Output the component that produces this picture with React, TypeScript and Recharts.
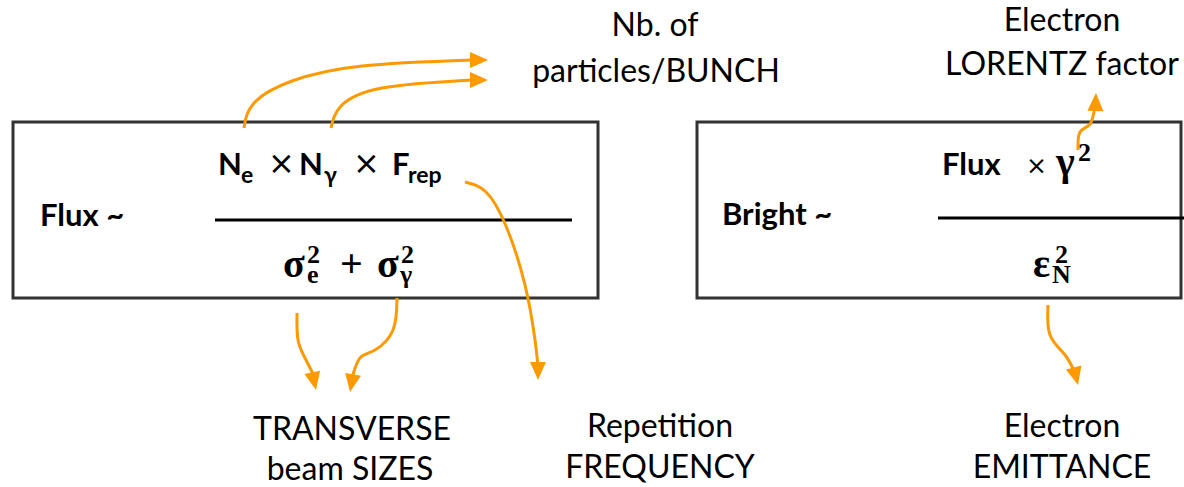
import React from "react";
import {
  ComposedChart,
  XAxis,
  YAxis,
  Line,
  Scatter,
  ReferenceArea,
  ReferenceLine,
} from "recharts";

const ORANGE = "#FF9900";
const SANS = "Lato, 'Open Sans', sans-serif";
const SERIF = "'Liberation Serif', 'DejaVu Serif', serif";

// diagram coordinates (x to the right, y downwards)
const boxes = [
  { x1: 13, x2: 598, y1: 122, y2: 298 },
  { x1: 697, x2: 1181, y1: 122, y2: 298 },
];

const fractionBars = [
  { x1: 215, x2: 572, y: 220 },
  { x1: 938, x2: 1184, y: 218 },
];

const arrowNe = [
  { x: 244, y: 128 },
  { x: 254, y: 103 },
  { x: 292, y: 81 },
  { x: 362, y: 66 },
  { x: 472, y: 60 },
];
const arrowNgamma = [
  { x: 331, y: 128 },
  { x: 341, y: 106 },
  { x: 382, y: 88 },
  { x: 472, y: 80 },
];
const arrowFrep = [
  { x: 465, y: 182 },
  { x: 486, y: 192 },
  { x: 506, y: 226 },
  { x: 525, y: 285 },
  { x: 535, y: 340 },
  { x: 538, y: 366 },
];
const arrowSigmaE = [
  { x: 297, y: 313 },
  { x: 298, y: 340 },
  { x: 305, y: 358 },
  { x: 314, y: 376 },
];
const arrowSigmaGamma = [
  { x: 397, y: 298 },
  { x: 393, y: 330 },
  { x: 375, y: 350 },
  { x: 360, y: 358 },
  { x: 352, y: 378 },
];
const arrowGamma = [
  { x: 1078, y: 150 },
  { x: 1080, y: 132 },
  { x: 1090, y: 124 },
  { x: 1095, y: 106 },
];
const arrowEmittance = [
  { x: 1048, y: 305 },
  { x: 1050, y: 335 },
  { x: 1065, y: 355 },
  { x: 1075, y: 373 },
];

const arrows = [
  arrowNe,
  arrowNgamma,
  arrowFrep,
  arrowSigmaE,
  arrowSigmaGamma,
  arrowGamma,
  arrowEmittance,
];

// tip of each arrow head and the direction it points to (degrees)
const arrowHeads = [
  { x: 488, y: 60, angle: 0 },
  { x: 488, y: 80, angle: 0 },
  { x: 538, y: 380, angle: 90 },
  { x: 316, y: 390, angle: 78 },
  { x: 350, y: 392, angle: 100 },
  { x: 1096, y: 93, angle: -88 },
  { x: 1078, y: 385, angle: 76 },
];

const plainLabels = [
  { x: 655, y: 36, text: "Nb. of" },
  { x: 656, y: 82, text: "particles/BUNCH" },
  { x: 1062, y: 31, text: "Electron" },
  { x: 1062, y: 75, text: "LORENTZ factor" },
  { x: 352, y: 440, text: "TRANSVERSE" },
  { x: 350, y: 480, text: "beam SIZES" },
  { x: 660, y: 437, text: "Repetition" },
  { x: 660, y: 478, text: "FREQUENCY" },
  { x: 1062, y: 437, text: "Electron" },
  { x: 1062, y: 478, text: "EMITTANCE" },
];

const boldLabels = [
  { x: 40, y: 226, text: "Flux ~" },
  { x: 722, y: 225, text: "Bright ~" },
];

// formula pieces: text, kind (base / sub / sup), offset from the formula start
type Seg = {
  t: string;
  k: "b" | "sub" | "sup";
  ox: number;
  serif?: boolean;
  times?: number;
};

const fluxNumerator: Seg[] = [
  { t: "N", k: "b", ox: 0 },
  { t: "e", k: "sub", ox: 23 },
  { t: "×", k: "b", ox: 50, times: 32 },
  { t: "N", k: "b", ox: 81 },
  { t: "γ", k: "sub", ox: 106 },
  { t: "×", k: "b", ox: 135, times: 32 },
  { t: "F", k: "b", ox: 174 },
  { t: "rep", k: "sub", ox: 190 },
];
const fluxDenominator: Seg[] = [
  { t: "σ", k: "b", ox: 0, serif: true },
  { t: "2", k: "sup", ox: 24, serif: true },
  { t: "e", k: "sub", ox: 24, serif: true },
  { t: "+", k: "b", ox: 57, serif: true },
  { t: "σ", k: "b", ox: 94, serif: true },
  { t: "2", k: "sup", ox: 118, serif: true },
  { t: "γ", k: "sub", ox: 117, serif: true },
];
const brightNumerator: Seg[] = [
  { t: "Flux", k: "b", ox: 0 },
  { t: "×", k: "b", ox: 84, times: 25 },
  { t: "γ", k: "b", ox: 114, serif: true },
  { t: "2", k: "sup", ox: 136, serif: true },
];
const brightDenominator: Seg[] = [
  { t: "ε", k: "b", ox: 0, serif: true },
  { t: "2", k: "sup", ox: 22, serif: true },
  { t: "N", k: "sub", ox: 19, serif: true },
];

const formulas = [
  { x: 218, y: 175, segs: fluxNumerator },
  { x: 283, y: 277, segs: fluxDenominator },
  { x: 942, y: 175, segs: brightNumerator },
  { x: 1033, y: 277, segs: brightDenominator },
];

const ArrowHead = (props: any) => {
  const { cx, cy, payload } = props;
  if (cx == null || cy == null) return null;
  return (
    <polygon
      points="0,0 -18,-8 -18,8"
      fill={ORANGE}
      transform={`translate(${cx},${cy}) rotate(${payload.angle})`}
    />
  );
};

const PlainText = (props: any) => (
  <text
    x={props.cx}
    y={props.cy}
    textAnchor="middle"
    fontFamily={SANS}
    fontSize={32}
    fill="#000"
  >
    {props.payload.text}
  </text>
);

const BoldText = (props: any) => (
  <text
    x={props.cx}
    y={props.cy}
    fontFamily={SANS}
    fontWeight="bold"
    fontSize={31}
    fill="#000"
  >
    {props.payload.text}
  </text>
);

const Formula = (props: any) => {
  const { cx, cy } = props;
  const segs: Seg[] = props.payload.segs;
  return (
    <text fill="#000">
      {segs.map((s, i) => {
        const serif = !!s.serif;
        const size = s.k === "b" ? (serif ? 40 : 31) : serif ? 26 : 23;
        const dy = s.k === "sub" ? (serif ? 6 : 8) : s.k === "sup" ? -14 : 0;
        if (s.times) {
          return (
            <tspan
              key={i}
              x={cx + s.ox}
              y={cy - 1}
              fontSize={s.times}
              fontFamily="'DejaVu Sans', sans-serif"
            >
              {s.t}
            </tspan>
          );
        }
        return (
          <tspan
            key={i}
            x={cx + s.ox}
            y={cy + dy}
            fontSize={size}
            fontWeight="bold"
            fontFamily={serif ? SERIF : SANS}
          >
            {s.t}
          </tspan>
        );
      })}
    </text>
  );
};

export default function App() {
  return (
    <div style={{ position: "absolute", left: 0, top: 0, background: "#fff" }}>
      <ComposedChart
        width={1184}
        height={487}
        margin={{ top: 0, right: 0, bottom: 0, left: 0 }}
      >
        <XAxis
          type="number"
          dataKey="x"
          domain={[0, 1184]}
          allowDataOverflow
          hide
        />
        <YAxis
          type="number"
          dataKey="y"
          domain={[0, 487]}
          reversed
          allowDataOverflow
          hide
        />
        {boxes.map((b, i) => (
          <ReferenceArea
            key={`box-${i}`}
            x1={b.x1}
            x2={b.x2}
            y1={b.y1}
            y2={b.y2}
            fill="none"
            fillOpacity={0}
            stroke="#333"
            strokeWidth={3}
            ifOverflow="visible"
          />
        ))}
        {fractionBars.map((f, i) => (
          <ReferenceLine
            key={`bar-${i}`}
            segment={[
              { x: f.x1, y: f.y },
              { x: f.x2, y: f.y },
            ]}
            stroke="#000"
            strokeWidth={3}
            ifOverflow="visible"
          />
        ))}
        {arrows.map((a, i) => (
          <Line
            key={`arrow-${i}`}
            data={a}
            dataKey="y"
            type="natural"
            stroke={ORANGE}
            strokeWidth={3}
            dot={false}
            activeDot={false}
            isAnimationActive={false}
          />
        ))}
        <Scatter
          data={arrowHeads}
          dataKey="y"
          shape={ArrowHead}
          isAnimationActive={false}
        />
        <Scatter
          data={plainLabels}
          dataKey="y"
          shape={PlainText}
          isAnimationActive={false}
        />
        <Scatter
          data={boldLabels}
          dataKey="y"
          shape={BoldText}
          isAnimationActive={false}
        />
        <Scatter
          data={formulas}
          dataKey="y"
          shape={Formula}
          isAnimationActive={false}
        />
      </ComposedChart>
    </div>
  );
}
